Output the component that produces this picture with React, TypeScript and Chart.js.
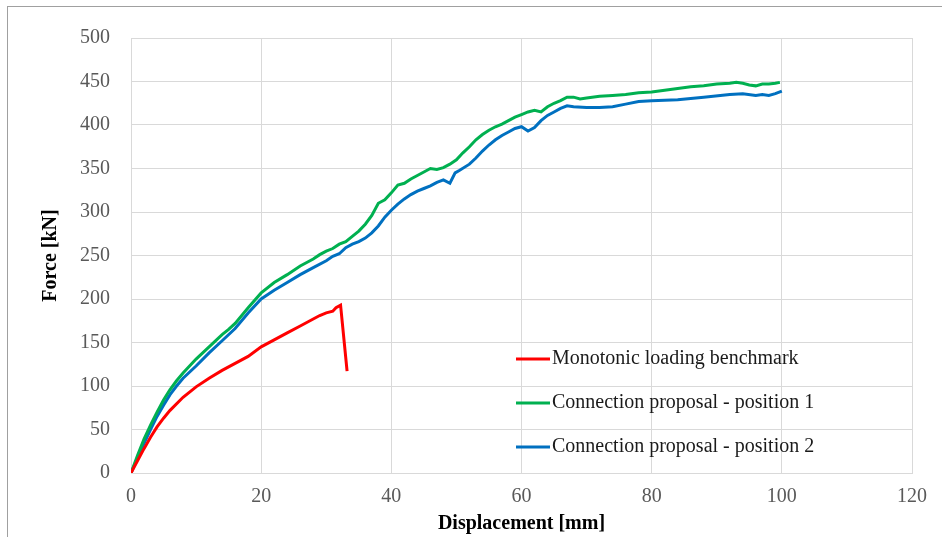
import React, { useEffect, useRef } from "react";
import { Chart, registerables } from "chart.js";

Chart.register(...registerables);

// ---- Data ----
const seriesLabels = [
  "Monotonic loading benchmark",
  "Connection proposal - position 1",
  "Connection proposal - position 2",
];
const seriesColors = ["#FF0000", "#00B050", "#0070C0"];

const monoX = [0, 1, 2, 3, 4, 5, 6, 8, 10, 12, 14, 16, 18, 20, 22, 24, 26, 28, 29, 30, 31, 31.5, 32.2, 33.2];
const monoY = [0, 14, 28, 41, 53, 63, 72, 87, 99, 109, 118, 126, 134, 145, 153, 161, 169, 177, 181, 184, 186, 190, 193, 117];

const pos1X = [0, 1, 2, 3, 4, 5, 6, 7, 8, 10, 12, 14, 15, 16, 18, 20, 22, 24, 26, 28, 29, 30, 31, 32, 33, 34, 35, 36, 37, 38, 39, 40, 41, 42, 43, 44, 45, 46, 47, 48, 49, 50, 51, 52, 53, 54, 55, 56, 57, 58, 59, 60, 61, 62, 63, 64, 65, 66, 67, 68, 69, 70, 72, 74, 76, 78, 80, 82, 84, 86, 88, 90, 92, 93, 94, 95, 96, 97, 98, 99, 99.7];
const pos1Y = [0, 20, 39, 55, 70, 84, 96, 106, 115, 131, 145, 159, 165, 172, 190, 207, 219, 228, 238, 246, 251, 255, 258, 263, 266, 272, 278, 286, 296, 310, 314, 322, 331, 333, 338, 342, 346, 350, 349, 351, 355, 360, 368, 375, 383, 389, 394, 398, 401, 405, 409, 412, 415, 417, 415, 421, 425, 428, 432, 432, 430, 431, 433, 434, 435, 437, 438, 440, 442, 444, 445, 447, 448, 449, 448, 446, 445, 447, 447, 448, 449];

const pos2X = [0, 1, 2, 3, 4, 5, 6, 7, 8, 10, 12, 14, 16, 18, 20, 22, 24, 26, 28, 30, 31, 32, 33, 34, 35, 36, 37, 38, 39, 40, 41, 42, 43, 44, 45, 46, 47, 48, 49, 49.8, 50.5, 52, 53, 54, 55, 56, 57, 58, 59, 60, 61, 62, 63, 64, 65, 66, 67, 68, 70, 72, 74, 76, 78, 80, 84, 88, 92, 94, 96, 97, 98, 99, 100];
const pos2Y = [0, 17, 34, 50, 65, 78, 90, 100, 109, 123, 138, 152, 166, 184, 200, 210, 219, 228, 236, 244, 249, 252, 259, 263, 266, 270, 276, 284, 294, 302, 309, 315, 320, 324, 327, 330, 334, 337, 333, 345, 348, 355, 362, 370, 377, 383, 388, 392, 396, 398, 393, 397, 405, 411, 415, 419, 422, 421, 420, 420, 421, 424, 427, 428, 429, 432, 435, 436, 434, 435, 434, 436, 439];

const xTicks = [0, 20, 40, 60, 80, 100, 120];
const yTicks = [0, 50, 100, 150, 200, 250, 300, 350, 400, 450, 500];

const xTitle = "Displacement [mm]";
const yTitle = "Force [kN]";

const zip = (xs: number[], ys: number[]) => xs.map((x, i) => ({ x, y: ys[i] }));

const FONT = "'Liberation Serif', 'Times New Roman', serif";

const innerLegend = {
  id: "innerLegend",
  afterDatasetsDraw(chart: any) {
    const { ctx, chartArea } = chart;
    const x0 = chartArea.left + 385;
    const y0 = chartArea.top + 321;
    const rowH = 44;
    ctx.save();
    ctx.font = `20px ${FONT}`;
    ctx.textBaseline = "middle";
    ctx.textAlign = "left";
    chart.data.datasets.forEach((ds: any, i: number) => {
      const y = y0 + i * rowH;
      ctx.strokeStyle = ds.borderColor;
      ctx.lineWidth = 3;
      ctx.beginPath();
      ctx.moveTo(x0, y);
      ctx.lineTo(x0 + 34, y);
      ctx.stroke();
      ctx.fillStyle = "#1a1a1a";
      ctx.fillText(ds.label, x0 + 36, y);
    });
    ctx.restore();
  },
};

export default function App() {
  const ref = useRef<HTMLCanvasElement>(null);

  useEffect(() => {
    if (!ref.current) return;
    const chart = new Chart(ref.current, {
      type: "line",
      data: {
        datasets: [
          { label: seriesLabels[0], data: zip(monoX, monoY) },
          { label: seriesLabels[1], data: zip(pos1X, pos1Y) },
          { label: seriesLabels[2], data: zip(pos2X, pos2Y) },
        ].map((d, i) => ({
          ...d,
          borderColor: seriesColors[i],
          backgroundColor: seriesColors[i],
          borderWidth: 3,
          pointRadius: 0,
          tension: 0,
          fill: false,
        })),
      },
      options: {
        responsive: false,
        devicePixelRatio: 1,
        animation: false,
        layout: { padding: { left: 0, right: 30, top: 38, bottom: 0 } },
        plugins: {
          legend: { display: false },
          tooltip: { enabled: false },
        },
        scales: {
          x: {
            type: "linear",
            min: 0,
            max: 120,
            afterBuildTicks: (s: any) => {
              s.ticks = xTicks.map((v) => ({ value: v }));
            },
            afterFit: (s: any) => {
              s.height = 64;
            },
            ticks: {
              color: "#595959",
              font: { family: FONT, size: 20 },
              padding: 12,
              maxRotation: 0,
            },
            grid: { color: "#d9d9d9", lineWidth: 1, drawTicks: false },
            border: { color: "#d9d9d9" },
            title: {
              display: true,
              text: xTitle,
              color: "#000",
              font: { family: FONT, size: 20, weight: "bold" },
              padding: { top: 0, bottom: 1 },
            },
          },
          y: {
            type: "linear",
            min: 0,
            max: 500,
            afterBuildTicks: (s: any) => {
              s.ticks = yTicks.map((v) => ({ value: v }));
            },
            afterFit: (s: any) => {
              s.width = 131;
            },
            ticks: {
              color: "#595959",
              font: { family: FONT, size: 20 },
              padding: 21,
            },
            grid: { color: "#d9d9d9", lineWidth: 1, drawTicks: false },
            border: { color: "#d9d9d9" },
            title: {
              display: true,
              text: yTitle,
              color: "#000",
              font: { family: FONT, size: 20, weight: "bold" },
              padding: { top: 39, bottom: 0 },
            },
          },
        },
      },
      plugins: [innerLegend],
    } as any);
    return () => chart.destroy();
  }, []);

  return (
    <div style={{ position: "absolute", left: 0, top: 0, width: 942, height: 537, background: "#fff", overflow: "hidden" }}>
      <canvas ref={ref} width={942} height={537} style={{ position: "absolute", left: 0, top: 0 }} />
      <div style={{ position: "absolute", left: 7, top: 6, width: 935, height: 1, background: "#a0a0a0" }} />
      <div style={{ position: "absolute", left: 7, top: 6, width: 1, height: 531, background: "#a0a0a0" }} />
    </div>
  );
}
